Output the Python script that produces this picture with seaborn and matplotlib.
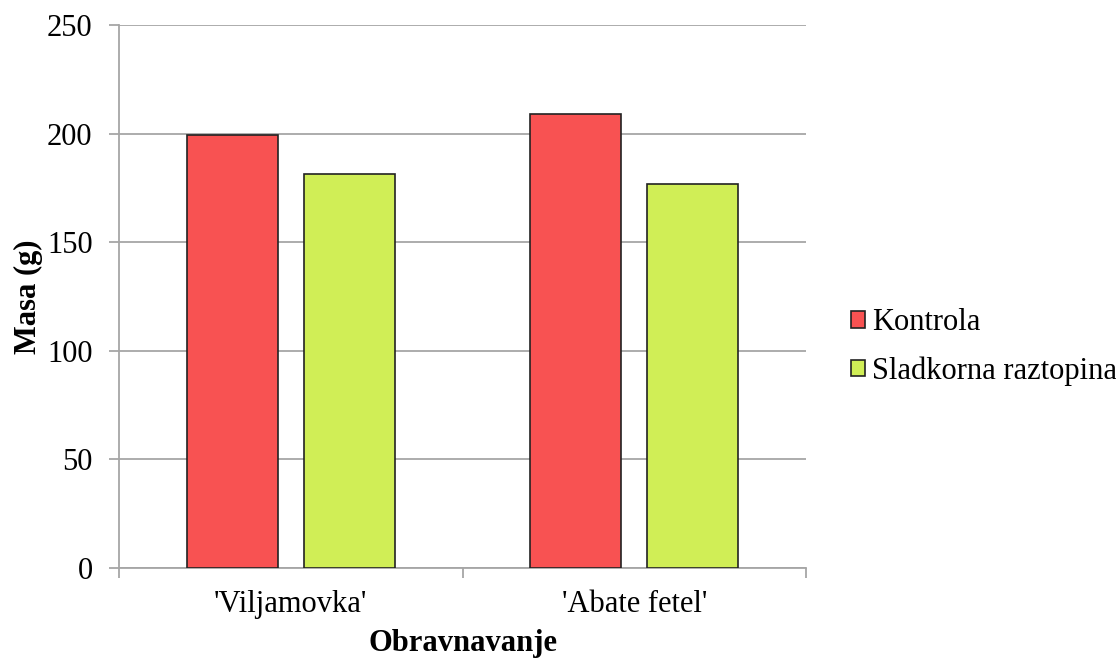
import matplotlib
matplotlib.use("Agg")
import matplotlib.pyplot as plt
import seaborn as sns
import pandas as pd

# Pear mass by cultivar and treatment
sorte = ["'Viljamovka'", "'Abate fetel'"]
obravnavanja = ["Kontrola", "Sladkorna raztopina"]
kontrola = [199.2, 208.9]
sladkorna = [181.5, 176.7]

df = pd.DataFrame({
    "Sorta": sorte * 2,
    "Obravnavanje": [obravnavanja[0]] * 2 + [obravnavanja[1]] * 2,
    "Masa": kontrola + sladkorna,
})

sns.set_theme(style="white")
plt.rcParams["font.family"] = ["Liberation Serif", "DejaVu Serif"]
plt.rcParams["text.color"] = "black"

FS = 22

fig = plt.figure(figsize=(11.16, 6.59), dpi=100)
ax = fig.add_axes([119 / 1116, 1 - 568 / 659, (806 - 119) / 1116, (568 - 25) / 659])

barve = {"Kontrola": "#F85252", "Sladkorna raztopina": "#D0EE56"}
sns.barplot(data=df, x="Sorta", y="Masa", hue="Obravnavanje",
            hue_order=obravnavanja, order=sorte, palette=barve,
            width=0.681, gap=0.222, edgecolor="#222222", linewidth=1.2,
            saturation=1, ax=ax, legend=True, zorder=3)

ax.set_ylim(0, 250)
ax.set_xlim(-0.5, 1.5)
ax.set_yticks([0, 50, 100, 150, 200, 250])
ax.yaxis.grid(True, color="#a6a6a6", linewidth=1.3, zorder=0)
ax.set_axisbelow(True)

for s in ["top", "right"]:
    ax.spines[s].set_visible(False)
for s in ["left", "bottom"]:
    ax.spines[s].set_color("#a6a6a6")
    ax.spines[s].set_linewidth(1.3)

ax.tick_params(axis="y", which="major", direction="out", length=7, width=1.3,
               color="#a6a6a6", pad=12, labelsize=FS, labelcolor="black", left=True)
ax.set_xticks([-0.5, 0.5, 1.5], minor=True)
ax.tick_params(axis="x", which="minor", direction="out", length=7, width=1.3,
               color="#a6a6a6", bottom=True)
ax.tick_params(axis="x", which="major", length=0, pad=16, labelsize=FS,
               labelcolor="black")

ax.set_ylabel("Masa (g)", fontsize=FS, fontweight="bold", color="black", labelpad=3)
ax.set_xlabel("Obravnavanje", fontsize=FS, fontweight="bold", color="black", labelpad=7)

handles, labels = ax.get_legend_handles_labels()
ax.legend_.remove()
leg = fig.legend(handles, labels, loc="center left",
                 bbox_to_anchor=(851 / 1116, 1 - 347 / 659), frameon=False,
                 fontsize=FS, handlelength=0.46, handleheight=0.46,
                 handletextpad=0.22, labelspacing=0.62, borderpad=0, borderaxespad=0)
for t in leg.get_texts():
    t.set_color("black")

fig.savefig("out.png", dpi=100)
